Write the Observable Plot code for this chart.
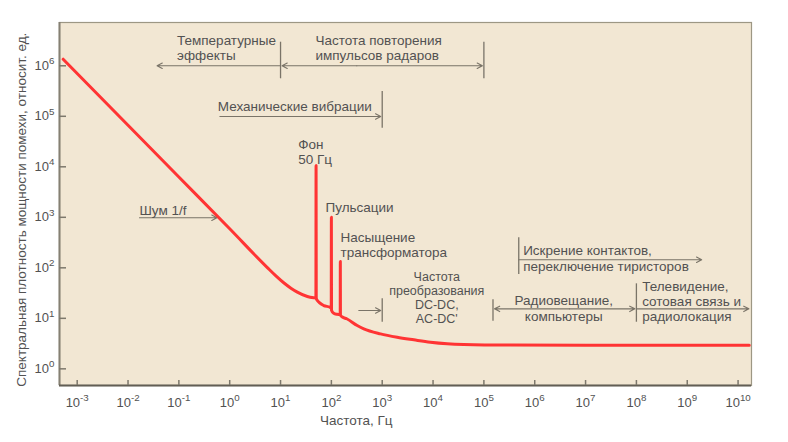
<!DOCTYPE html>
<html><head><meta charset="utf-8">
<script src="https://cdn.jsdelivr.net/npm/d3@7"></script>
<script src="https://cdn.jsdelivr.net/npm/@observablehq/plot@0.6"></script>
<style>
html,body{margin:0;padding:0;background:#fff;}
#chart svg{display:block;}
</style>
</head><body><div id="chart"></div>
<script>
// ---- curve (frequency in Hz, spectral density in rel. units) ----
const freq = [5.3e-4, 0.01, 0.1, 1, 5.5, 8, 11.7, 16, 21.4, 33.7, 45, 49.6, 50, 50.4, 58, 71, 93, 99.4, 100, 100.6, 111, 130, 149.2, 150, 150.8, 165, 200, 322, 434, 925, 1970, 4180, 8890, 18950, 40200, 3.3e5, 1e7, 1e9, 1.66e10];
const psd  = [1.35e6, 6.64e4, 6270, 592, 101, 70, 50, 39.5, 33.1, 27, 25.5, 25.2, 1.06e4, 24.5, 20.5, 17.9, 16.6, 16, 1000, 14.5, 12.6, 12, 11.8, 133, 11.5, 10.6, 9.8, 7.2, 6.2, 4.93, 4.22, 3.75, 3.36, 3.13, 3.03, 2.95, 2.93, 2.93, 2.93];

// ---- ticks ----
const xTicks = [1e-3, 1e-2, 1e-1, 1, 1e1, 1e2, 1e3, 1e4, 1e5, 1e6, 1e7, 1e8, 1e9, 1e10];
const yTicks = [1, 1e1, 1e2, 1e3, 1e4, 1e5, 1e6];

// ---- annotation texts ----
const startTexts = ["Температурные\nэффекты", "Частота повторения\nимпульсов радаров", "Механические вибрации", "Фон\n50 Гц", "Пульсации", "Насыщение\nтрансформатора", "Шум 1/f", "Телевидение,\nсотовая связь и\nрадиолокация", "Искрение контактов,", "переключение тиристоров"];
const startX = [0.092, 48.6, 0.583, 22.2, 76.6, 151, 0.0168, 1.3e8, 5.92e5, 5.92e5];
const startY = [2.26e6, 2.26e6, 1.6e5, 1.95e4, 1585, 289, 1376, 21.8, 225, 107];

const midTexts = ["Радиовещание,", "компьютеры"];
const midX = [3.72e6, 3.72e6];
const midY = [22.5, 10.9];

const dcText = ["Частота\nпреобразования\nDC-DC,\nAC-DC'"];
const dcX = [11830];
const dcY = [25.6];

// ---- annotation arrows (head at x2) ----
const arrowX1 = [10, 316, 316, 0.641, 0.0168, 346, 4800000, 4800000, 1e8, 4.85e5];
const arrowX2 = [0.0348, 10, 1e5, 1000, 0.601, 1000, 1.51e5, 1e8, 1.75e10, 2.06e9];
const arrowY  = [1e6, 1e6, 1e6, 9.9e4, 977, 14.3, 15.4, 15.4, 15.4, 144];

// ---- annotation bars ----
const barX  = [10, 1e5, 1000, 1000, 1.51e5, 1e8, 4.85e5];
const barY1 = [2.93e6, 2.93e6, 3.1e5, 24.3, 23.2, 48.2, 393];
const barY2 = [5.53e5, 5.53e5, 5.81e4, 8.37, 8.77, 8.37, 73.7];

const xLabel = "Частота, Гц";
const yLabel = "Спектральная плотность мощности помехи, относит. ед.";

// ---- build tables ----
const curve = freq.map((f, i) => ({f, p: psd[i]}));
const startLab = startTexts.map((t, i) => ({t, x: startX[i], y: startY[i]}));
const midLab = midTexts.map((t, i) => ({t, x: midX[i], y: midY[i]}));
const dcLab = dcText.map((t, i) => ({t, x: dcX[i], y: dcY[i]}));
const arrows = arrowX1.map((x1, i) => ({x1, x2: arrowX2[i], y: arrowY[i]}));
const bars = barX.map((x, i) => ({x, y1: barY1[i], y2: barY2[i]}));

const xDomain = [10 ** -3.348, 10 ** 10.264];
const yDomain = [10 ** -0.33, 10 ** 6.857];

const font = "'Liberation Sans', Arial, Helvetica, sans-serif";
const textColor = "#525252";
const annColor = "#7a7468";
const tickColor = "#7d786c";
const fmt = d => "10^" + Math.round(Math.log10(d));

const chart = Plot.plot({
  width: 788, height: 442,
  marginLeft: 59, marginRight: 37, marginTop: 22, marginBottom: 57,
  style: {fontFamily: font, fontSize: "13px", color: textColor, background: "transparent", overflow: "visible"},
  x: {type: "log", domain: xDomain},
  y: {type: "log", domain: yDomain},
  marks: [
    Plot.frame({fill: "#f2e7d3", stroke: "#9d9784", strokeWidth: 1.2}),
    Plot.ruleX([xDomain[0]], {stroke: "#858073", strokeWidth: 2}),
    Plot.ruleY([yDomain[0]], {stroke: "#625e55", strokeWidth: 2}),
    Plot.axisX({ticks: xTicks, tickSize: 5, dy: -5, text: null, label: null, stroke: tickColor, strokeWidth: 1.5}),
    Plot.axisX({ticks: xTicks, tickSize: 0, tickPadding: 12, tickFormat: fmt, label: null, fontSize: 13}),
    Plot.axisY({ticks: yTicks, tickSize: 7, dx: 7, text: null, label: null, stroke: tickColor, strokeWidth: 1.5}),
    Plot.axisY({ticks: yTicks, tickSize: 0, tickPadding: 5, tickFormat: fmt, label: null, fontSize: 13}),
    Plot.ruleX(bars, {x: "x", y1: "y1", y2: "y2", stroke: annColor, strokeWidth: 1.3}),
    Plot.arrow(arrows, {x1: "x1", x2: "x2", y1: "y", y2: "y", stroke: annColor, strokeWidth: 1.1, headLength: 8, headAngle: 55, insetEnd: 1.5}),
    Plot.text(startLab, {x: "x", y: "y", text: "t", textAnchor: "start", lineAnchor: "middle", lineHeight: 1.11, fill: textColor, fontSize: 13.5}),
    Plot.text(midLab, {x: "x", y: "y", text: "t", textAnchor: "middle", lineAnchor: "middle", fill: textColor, fontSize: 13.5}),
    Plot.text(dcLab, {x: "x", y: "y", text: "t", textAnchor: "middle", lineAnchor: "middle", lineHeight: 1.13, fill: textColor, fontSize: 12.5}),
    Plot.line(curve, {x: "f", y: "p", stroke: "#ff3434", strokeWidth: 3, curve: "monotone-x", strokeLinejoin: "round"}),
    Plot.text([xLabel], {x: [10 ** 2.488], y: [10 ** -1.034], text: d => d, fill: textColor, fontSize: 13.5}),
    Plot.text([yLabel], {x: [10 ** -4.096], y: [10 ** 3.15], text: d => d, rotate: -90, fill: textColor, fontSize: 13.5})
  ]
});

// superscript exponents in tick labels
chart.querySelectorAll("text").forEach(t => {
  const s = t.textContent;
  if (/^10\^-?\d+$/.test(s) && t.children.length === 0) {
    const exp = s.split("^")[1];
    t.textContent = "10";
    const sup = document.createElementNS("http://www.w3.org/2000/svg", "tspan");
    sup.setAttribute("font-size", "0.75em");
    sup.setAttribute("dy", "-0.6em");
    sup.textContent = exp;
    t.appendChild(sup);
  }
});

document.getElementById("chart").appendChild(chart);
</script>
</body></html>
